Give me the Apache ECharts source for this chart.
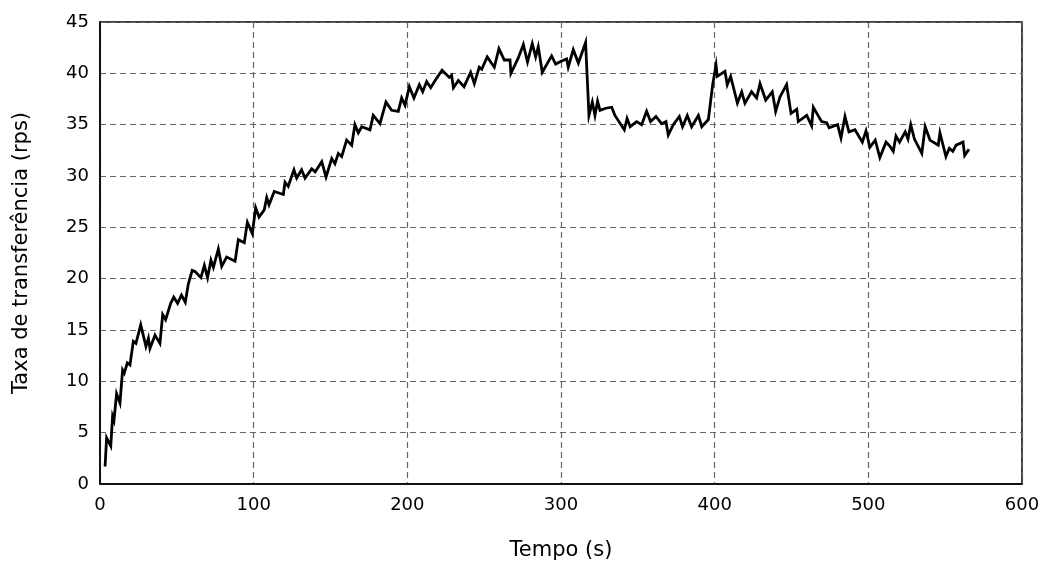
<!DOCTYPE html>
<html>
<head>
<meta charset="utf-8">
<script src="https://cdn.jsdelivr.net/npm/echarts@6/dist/echarts.min.js"></script>
<style>
  html, body { margin: 0; padding: 0; background: #fff; }
  #chart { width: 1046px; height: 563px; }
</style>
</head>
<body>
<div id="chart"></div>
<script>
// Sample times (s) and measured transfer rate (rps)
const tempo = [
  3.3, 4.3, 7.0, 8.2, 9.1, 10.8, 13.0, 14.7, 15.8, 17.8, 19.5, 21.7, 23.4, 26.5, 29.9,
  31.5, 32.5, 35.8, 39.0, 40.8, 42.7, 46.0, 48.0, 50.5, 53.0, 55.5, 57.5, 60.0, 61.8,
  65.7, 67.9, 70.0, 72.2, 73.8, 77.0, 79.2, 82.4, 87.9, 90.0, 93.9, 95.9, 99.1, 101.3,
  103.5, 106.9, 108.5, 110.0, 113.4, 119.3, 120.4, 122.5, 126.2, 128.0, 131.2, 133.4,
  137.8, 140.0, 144.3, 147.1, 150.8, 152.9, 155.1, 157.3, 160.5, 163.8, 165.9, 168.1,
  170.3, 175.7, 177.8, 182.2, 186.1, 189.8, 194.1, 196.3, 198.5, 201.3, 204.3, 207.8,
  210.0, 212.6, 215.2, 218.5, 222.6, 227.3, 228.8, 230.0, 233.2, 236.9, 241.2, 243.6,
  246.8, 248.4, 252.0, 256.6, 259.6, 263.1, 266.8, 267.4, 272.2, 275.5, 278.2, 281.3,
  283.5, 285.2, 287.8, 293.9, 296.5, 300.4, 303.7, 304.7, 308.0, 311.3, 316.0, 318.2,
  320.4, 322.1, 323.8, 325.4, 329.0, 333.0, 335.1, 341.2, 343.0, 345.0, 349.2, 352.5,
  355.7, 358.3, 361.8, 365.5, 368.3, 369.8, 373.1, 377.0, 379.1, 382.2, 385.0, 389.4,
  391.6, 395.9, 398.7, 400.9, 401.7, 406.7, 408.2, 410.4, 414.8, 417.6, 419.7, 424.0,
  427.3, 429.5, 433.2, 437.5, 439.7, 442.5, 446.8, 449.7, 453.4, 454.4, 459.9, 463.1,
  464.2, 469.6, 472.9, 474.5, 480.0, 482.2, 484.8, 487.4, 491.3, 496.1, 498.5, 501.0,
  504.5, 507.5, 511.5, 514.0, 516.2, 518.0, 520.3, 524.0, 525.8, 527.6, 530.0, 534.8,
  537.0, 540.1, 545.5, 546.6, 550.5, 552.7, 555.0, 557.1, 561.6, 562.7, 565.5
];
const taxa = [
  1.7, 4.5, 3.7, 6.6, 6.2, 8.8, 7.9, 11.1, 10.8, 11.8, 11.6, 13.9, 13.7, 15.5, 13.4,
  14.2, 13.2, 14.5, 13.7, 16.5, 16.0, 17.6, 18.2, 17.6, 18.4, 17.7, 19.5, 20.8, 20.7,
  20.1, 21.3, 20.1, 21.8, 21.1, 22.9, 21.2, 22.1, 21.7, 23.8, 23.5, 25.5, 24.4, 26.9,
  26.0, 26.7, 27.9, 27.2, 28.5, 28.2, 29.4, 29.0, 30.6, 29.8, 30.6, 29.8,
  30.7, 30.4, 31.4, 29.9, 31.7, 31.2, 32.2, 31.9, 33.5, 33.0, 35.0, 34.2,
  34.8, 34.5, 35.9, 35.1, 37.2, 36.4, 36.3, 37.6, 36.9, 38.7, 37.6, 38.9,
  38.2, 39.2, 38.6, 39.4, 40.3, 39.6, 39.8, 38.6, 39.3, 38.7, 40.1, 39.0,
  40.6, 40.4, 41.6, 40.6, 42.4, 41.3, 41.3, 40.0, 41.5, 42.8, 41.1, 42.9,
  41.6, 42.6, 40.1, 41.7, 40.9, 41.2, 41.4, 40.6, 42.3, 41.0, 43.0, 35.9,
  37.2, 35.9, 37.3, 36.4, 36.6, 36.7, 35.9, 34.5, 35.6, 34.8, 35.3, 35.0,
  36.3, 35.3, 35.8, 35.1, 35.3, 34.0, 35.0, 35.8, 34.8, 35.9, 34.8, 35.9,
  34.8, 35.5, 38.9, 40.8, 39.7, 40.2, 38.9, 39.7, 37.1, 38.2, 37.1, 38.2,
  37.6, 39.0, 37.4, 38.2, 36.3, 37.7, 38.9, 36.1, 36.5, 35.3, 35.9, 34.9,
  36.7, 35.3, 35.2, 34.7, 35.0, 33.7, 35.8, 34.3, 34.5, 33.3, 34.4, 32.8,
  33.5, 31.8, 33.3, 32.9, 32.4, 33.9, 33.3, 34.3, 33.6, 35.0, 33.6, 32.2,
  34.8, 33.5, 33.0, 34.2, 31.9, 32.7, 32.4, 33.0, 33.3, 32.0, 32.6
];

const xTicks = { min: 0, max: 600, step: 100 };
const yTicks = { min: 0, max: 45, step: 5 };

const serie = tempo.map((t, i) => [t, taxa[i]]);

const fonte = 'DejaVu Sans';
const grade = {
  show: true,
  lineStyle: { color: '#666', type: [6, 4], width: 1.2 }
};

const chart = echarts.init(document.getElementById('chart'), null, { renderer: 'canvas' });
chart.setOption({
  animation: false,
  backgroundColor: '#fff',
  grid: {
    left: 100, right: 24, top: 22, bottom: 79,
    outerBoundsMode: 'none',
    containLabel: false,
    show: true, borderColor: '#000', borderWidth: 1.5, backgroundColor: 'transparent'
  },
  xAxis: {
    type: 'value',
    min: xTicks.min, max: xTicks.max, interval: xTicks.step,
    name: 'Tempo (s)',
    nameLocation: 'middle',
    nameGap: 56,
    nameTextStyle: { fontFamily: fonte, fontSize: 21, color: '#000' },
    axisLine: { show: true, lineStyle: { color: '#000', width: 1.5 } },
    axisTick: { show: false },
    axisLabel: { fontFamily: fonte, fontSize: 18, color: '#000', margin: 12 },
    splitLine: grade
  },
  yAxis: {
    type: 'value',
    min: yTicks.min, max: yTicks.max, interval: yTicks.step,
    name: 'Taxa de transferência (rps)',
    nameLocation: 'middle',
    nameGap: 68,
    nameTextStyle: { fontFamily: fonte, fontSize: 21, color: '#000' },
    axisLine: { show: true, lineStyle: { color: '#000', width: 1.5 } },
    axisTick: { show: false },
    axisLabel: { fontFamily: fonte, fontSize: 18, color: '#000', margin: 11 },
    splitLine: grade
  },
  series: [{
    type: 'line',
    data: serie,
    showSymbol: false,
    symbol: 'none',
    lineStyle: { color: '#000', width: 2.8, join: 'miter' },
    clip: true
  }]
});
</script>
</body>
</html>
